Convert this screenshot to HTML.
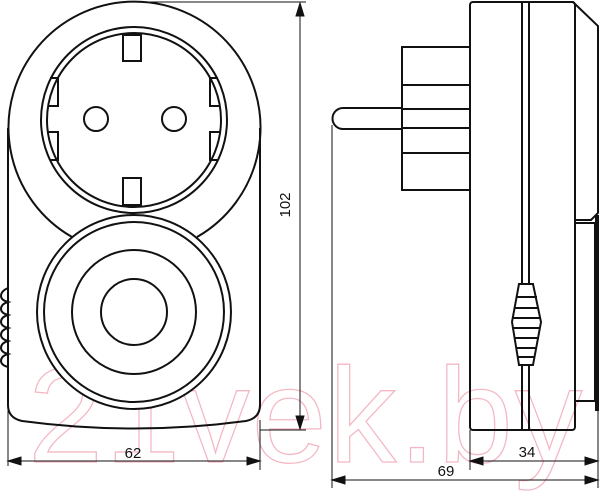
<!DOCTYPE html>
<html><head><style>body{margin:0;background:#fff}svg{display:block}</style></head><body>
<svg width="600" height="492" viewBox="0 0 600 492" xmlns="http://www.w3.org/2000/svg" font-family="Liberation Sans, sans-serif">
<text x="28" y="462" font-size="135" fill="none" stroke="#f4b8c4" stroke-width="1.3" letter-spacing="2">21vek.by</text>
<g fill="none" stroke="#111" stroke-width="2">
<!-- front body -->
<path d="M72,237 A126,126 0 1 1 197,237"/>
<path d="M8,128 L8,405 Q8,418 22,421 Q134,436 246,421 Q260,418 260,405 L260,128"/>
<circle cx="134" cy="120" r="93"/>
<circle cx="134" cy="120" r="87"/>
<circle cx="96" cy="119" r="12"/>
<circle cx="174" cy="119" r="12"/>
<rect x="123" y="35" width="18" height="26" fill="#fff"/>
<rect x="123" y="178" width="18" height="27" fill="#fff"/>
<path d="M50,78 L58,78 L58,106 L48,106 M50,160 L58,160 L58,132 L48,132"/>
<path d="M218,78 L210,78 L210,106 L220,106 M218,160 L210,160 L210,132 L220,132"/>
<circle cx="134" cy="312" r="97" fill="#fff"/>
<circle cx="134" cy="312" r="90"/>
<circle cx="134" cy="312" r="62"/>
<circle cx="134" cy="312" r="33"/>
<path d="M8,288 Q1,291 1,296 Q1,300 8,302 Q1,304 1,309 Q1,313 8,315 Q1,317 1,322 Q1,326 8,328 Q1,330 1,335 Q1,339 8,341 Q1,343 1,348 Q1,352 8,354 Q1,356 1,361 Q1,365 8,367"/>
</g>
<!-- front dims -->
<g stroke="#111" stroke-width="1" fill="#111">
<line x1="150" y1="2" x2="306" y2="2"/>
<line x1="260" y1="430" x2="306" y2="430"/>
<line x1="300" y1="4" x2="300" y2="428"/>
<path d="M300,3 L296,16 L304,16Z M300,429 L296,416 L304,416Z"/>
<line x1="8" y1="410" x2="8" y2="466"/>
<line x1="260" y1="420" x2="260" y2="470"/>
<line x1="9" y1="461" x2="259" y2="461"/>
<path d="M8,461 L21,457 L21,465Z M260,461 L247,457 L247,465Z"/>
</g>
<text x="133" y="458" font-size="15" text-anchor="middle" fill="#111">62</text>
<text transform="translate(290,205) rotate(-90)" font-size="15" text-anchor="middle" fill="#111">102</text>
<!-- side view -->
<g fill="none" stroke="#111" stroke-width="2">
<path d="M473,2 L573,2 L575,4 L598,26 L598,213 L591,220 L575,220"/>
<rect x="470" y="2" width="105" height="428" rx="3"/>
<line x1="522" y1="3" x2="522" y2="429"/>
<line x1="529" y1="3" x2="529" y2="429"/>
<rect x="575" y="223" width="20" height="178"/>
<rect x="402" y="47" width="68" height="143"/>
<line x1="402" y1="85" x2="470" y2="85"/>
<line x1="402" y1="109" x2="470" y2="109"/>
<line x1="402" y1="128" x2="470" y2="128"/>
<line x1="402" y1="153" x2="470" y2="153"/>
<path d="M402,108 L343,108 A10.5,10.5 0 0 0 343,129 L402,129"/>
<path d="M519,284 L533,284 L541,322 L533,365 L519,365 L512,322Z" fill="#fff"/>
<path d="M516,297 L537,297 M514,308 L539,308 M513,318 L540,318 M513,328 L540,328 M514,338 L539,338 M516,348 L537,348 M517,357 L535,357"/>
</g>
<rect x="595" y="215" width="4" height="196" fill="#111"/>
<g stroke="#111" stroke-width="1" fill="#111">
<line x1="332" y1="125" x2="332" y2="488"/>
<line x1="470" y1="430" x2="470" y2="470"/>
<line x1="598" y1="411" x2="598" y2="488"/>
<line x1="471" y1="461" x2="597" y2="461"/>
<path d="M470,461 L483,457 L483,465Z M598,461 L585,457 L585,465Z"/>
<line x1="333" y1="480" x2="597" y2="480"/>
<path d="M332,480 L345,476 L345,484Z M598,480 L585,476 L585,484Z"/>
</g>
<text x="527" y="457" font-size="15" text-anchor="middle" fill="#111">34</text>
<text x="446" y="476" font-size="15" text-anchor="middle" fill="#111">69</text>
</svg>
</body></html>
